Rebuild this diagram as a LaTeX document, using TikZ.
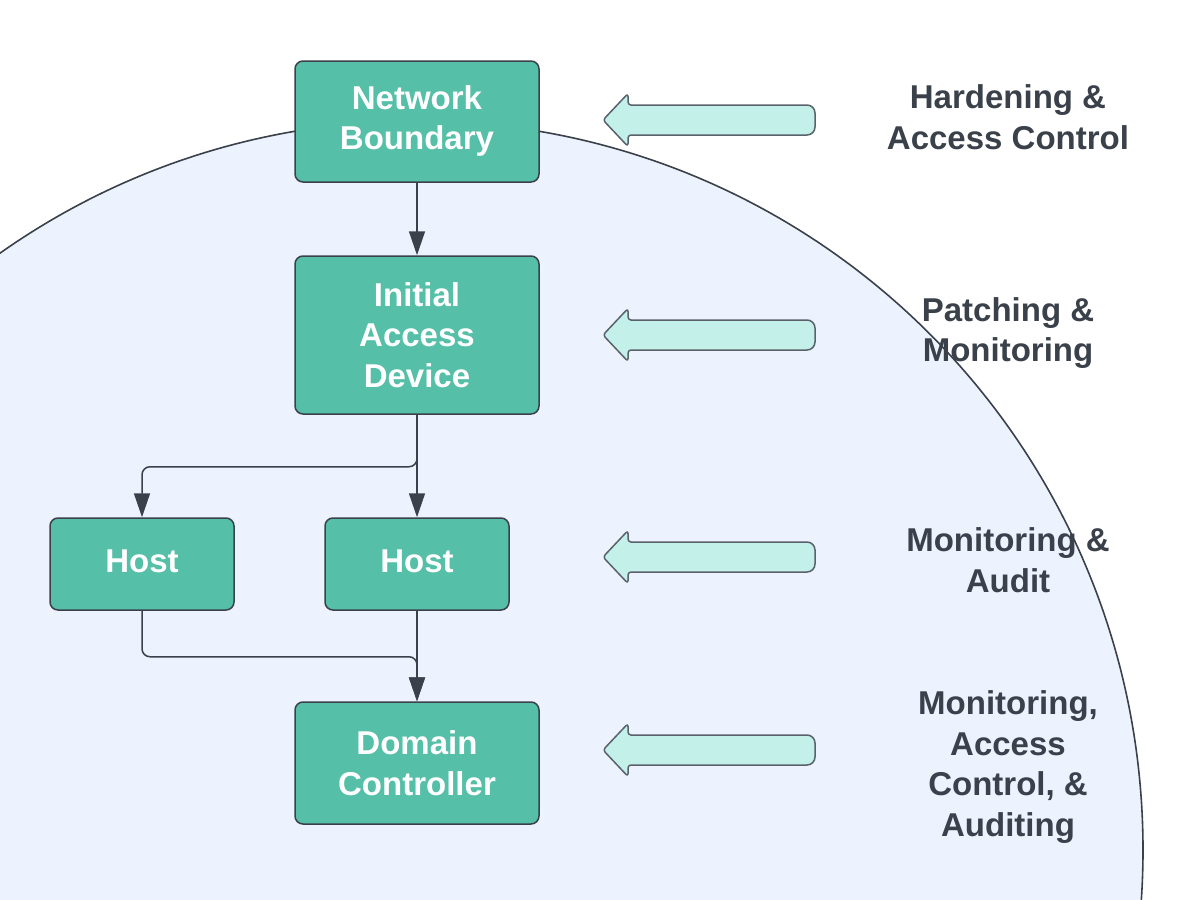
\documentclass[tikz,border=0pt]{standalone}
\usepackage{fontspec}
\setmainfont{Liberation Sans}
\usetikzlibrary{arrows.meta}
\definecolor{bgfill}{HTML}{EDF3FE}
\definecolor{boxfill}{HTML}{55BFA7}
\definecolor{darkline}{HTML}{3A414A}
\definecolor{arrowfill}{HTML}{C3F1EA}
\definecolor{arrowline}{HTML}{5B616B}
\tikzset{
  bigfont/.style={font=\fontsize{33}{40.5}\selectfont\bfseries},
  boxnode/.style={draw=darkline, fill=boxfill, line width=1.5pt, rounded corners=8pt,
    text=white, bigfont, align=center, inner sep=0pt},
  conn/.style={draw=darkline, line width=1.5pt, rounded corners=8pt,
    -{Triangle[length=24pt,width=16pt]}},
  blockarrow/.style={draw=arrowline, fill=arrowfill, line width=1.5pt, line join=round},
  sidelabel/.style={text=darkline, bigfont, align=center},
  bubble/.style={draw=darkline, fill=bgfill, line width=1.6pt}
}
\begin{document}
\begin{tikzpicture}[x=1pt, y=-1pt]
\useasboundingbox (0,0) rectangle (1200,900);
\begin{scope}
  \clip (0,0) rectangle (1200,900);
  \draw[bubble] (417,850) ellipse [x radius=726pt, y radius=729pt];
\end{scope}

% boxes
\node[boxnode, minimum width=244pt, minimum height=121pt] (nb) at (417,121.5) {\strut Network\\Boundary\strut};
\node[boxnode, minimum width=244pt, minimum height=158pt] (iad) at (417,335) {Initial\\Access\\Device};
\node[boxnode, minimum width=184pt, minimum height=92pt] (hl) at (142,564) {\strut Host};
\node[boxnode, minimum width=184pt, minimum height=92pt] (hr) at (417,564) {\strut Host};
\node[boxnode, minimum width=244pt, minimum height=122pt] (dc) at (417,763) {Domain\\Controller};

% connectors
\draw[conn] (nb.south) -- (iad.north);
\draw[conn] (iad.south) -- (hr.north);
\draw[conn] (iad.south) -- ([yshift=-52pt]iad.south) -| (hl.north);
\draw[conn] (hr.south) -- (dc.north);
\draw[conn] (hl.south) -- ([yshift=-46pt]hl.south) -| (dc.north);

% block arrows
\foreach \c in {120,335,557,750} {
  \draw[blockarrow, rounded corners=3pt]
    (603,\c) -- (628,\c-26.5) -- (628,\c-15)
    [rounded corners=8pt] -- (815,\c-15) -- (815,\c+15)
    [rounded corners=3pt] -- (628,\c+15) -- (628,\c+26.5) -- cycle;
}

% side labels
\node[sidelabel] (l1) at (1008,117) {Hardening \&\\Access Control};
\node[sidelabel] (l2) at (1008,333) {Patching \&\\Monitoring};
\node[sidelabel] (l3) at (1008,560) {Monitoring \&\\Audit};
\node[sidelabel] (l4) at (1008,767) {Monitoring,\\Access\\Control, \&\\Auditing};
\end{tikzpicture}
\end{document}
